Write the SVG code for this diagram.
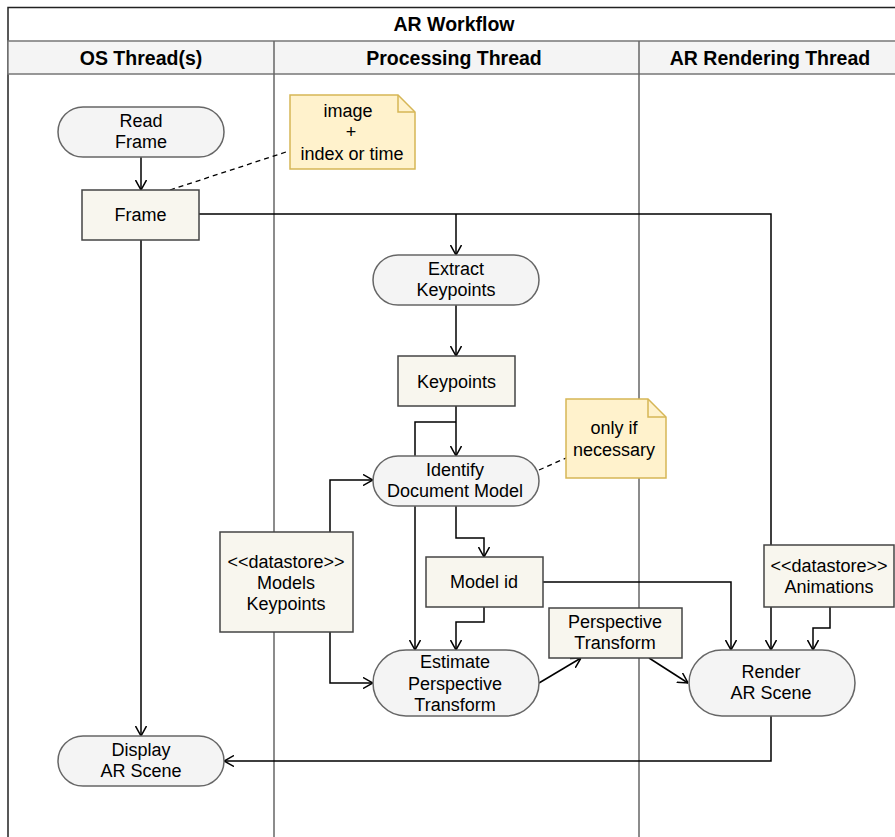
<svg xmlns="http://www.w3.org/2000/svg" width="895" height="837" viewBox="0 0 895 837">
<style>
text{font-family:"Liberation Sans",Arial,sans-serif;font-size:18px;fill:#000;text-anchor:middle}
.h{font-weight:bold;font-size:19.5px}
.pill{fill:#f4f4f4;stroke:#666;stroke-width:1.5}
.obj{fill:#f8f6ee;stroke:#444;stroke-width:1.5}
.note{fill:#fff2cc;stroke:#d6b656;stroke-width:1.5}
.lane{stroke:#666;stroke-width:1.5;fill:none}
.c{fill:none;stroke:#000;stroke-width:1.5}
.d{fill:none;stroke:#000;stroke-width:1.3;stroke-dasharray:5 4}
</style>
<defs>
<marker id="a" viewBox="0 0 10 12" refX="10" refY="6" markerWidth="10" markerHeight="12" markerUnits="userSpaceOnUse" orient="auto">
<path d="M0,0.5 L10,6 L0,11.5" fill="none" stroke="#000" stroke-width="1.5"/>
</marker>
</defs>
<rect width="895" height="837" fill="#fff"/>
<g id="pool">
<rect x="8" y="7.5" width="900" height="860" fill="none" stroke="#222" stroke-width="1.5"/>
<rect x="8" y="41" width="900" height="33" fill="#f4f4f4" stroke="#777" stroke-width="1.5"/>
<line class="lane" x1="274" y1="41" x2="274" y2="840"/>
<line class="lane" x1="639" y1="41" x2="639" y2="840"/>
<text class="h" x="454" y="31">AR Workflow</text>
<text class="h" x="141" y="65">OS Thread(s)</text>
<text class="h" x="454" y="65">Processing Thread</text>
<text class="h" x="770" y="65">AR Rendering Thread</text>
</g>
<g id="connectors">
<line class="c" x1="141" y1="157" x2="141" y2="190" marker-end="url(#a)"/>
<line class="d" x1="170" y1="190" x2="289" y2="151"/>
<polyline class="c" points="199,214 771,214 771,650" marker-end="url(#a)"/>
<line class="c" x1="456" y1="214" x2="456" y2="255" marker-end="url(#a)"/>
<line class="c" x1="141" y1="240" x2="141" y2="736" marker-end="url(#a)"/>
<line class="c" x1="456" y1="305" x2="456" y2="356" marker-end="url(#a)"/>
<line class="c" x1="456" y1="406" x2="456" y2="456" marker-end="url(#a)"/>
<polyline class="c" points="415,456 415,422 456,422"/>
<line class="d" x1="539" y1="470" x2="566" y2="458"/>
<polyline class="c" points="330,532 330,480 373,480" marker-end="url(#a)"/>
<polyline class="c" points="330,632 330,683 373,683" marker-end="url(#a)"/>
<polyline class="c" points="456,506 456,538 484,538 484,557" marker-end="url(#a)"/>
<line class="c" x1="415" y1="506" x2="415" y2="650" marker-end="url(#a)"/>
<polyline class="c" points="484,607 484,622 456,622 456,650" marker-end="url(#a)"/>
<line class="c" x1="539" y1="683" x2="581" y2="658" marker-end="url(#a)"/>
<line class="c" x1="649" y1="658" x2="688" y2="683" marker-end="url(#a)"/>
<polyline class="c" points="543,582 731,582 731,650" marker-end="url(#a)"/>
<polyline class="c" points="830,607 830,628 813,628 813,650" marker-end="url(#a)"/>
<polyline class="c" points="771,716 771,761 224,761" marker-end="url(#a)"/>
</g>
<g id="read-frame">
<rect class="pill" x="58" y="107" width="166" height="50" rx="25"/>
<text x="141" y="127">Read</text><text x="141" y="148">Frame</text>
</g>
<g id="frame">
<rect class="obj" x="82" y="190" width="117" height="50"/>
<text x="140.5" y="221">Frame</text>
</g>
<g id="note-image">
<path class="note" d="M290,95 H398 L415,112 V169 H290 Z"/>
<path d="M398,95 V112 H415" fill="none" stroke="#d6b656" stroke-width="1.5"/>
<text x="348" y="117">image</text><text x="351" y="138">+</text><text x="352" y="160">index or time</text>
</g>
<g id="extract-keypoints">
<rect class="pill" x="373" y="255" width="166" height="50" rx="25"/>
<text x="456" y="275">Extract</text><text x="456" y="296">Keypoints</text>
</g>
<g id="keypoints">
<rect class="obj" x="398" y="356" width="117" height="50"/>
<text x="456.5" y="388">Keypoints</text>
</g>
<g id="identify-document-model">
<rect class="pill" x="373" y="456" width="166" height="50" rx="25"/>
<text x="455" y="476">Identify</text><text x="455" y="497">Document Model</text>
</g>
<g id="note-only-if">
<path class="note" d="M566,399 H648 L666,417 V478 H566 Z"/>
<path d="M648,399 V417 H666" fill="none" stroke="#d6b656" stroke-width="1.5"/>
<text x="614" y="434">only if</text><text x="614" y="456">necessary</text>
</g>
<g id="datastore-models">
<rect class="obj" x="220" y="532" width="133" height="100"/>
<text x="286" y="568">&lt;&lt;datastore&gt;&gt;</text><text x="286" y="589">Models</text><text x="286" y="610">Keypoints</text>
</g>
<g id="model-id">
<rect class="obj" x="426" y="557" width="117" height="50"/>
<text x="484" y="588">Model id</text>
</g>
<g id="estimate-perspective-transform">
<rect class="pill" x="373" y="650" width="166" height="66" rx="33"/>
<text x="455" y="668">Estimate</text><text x="455" y="690">Perspective</text><text x="455" y="711">Transform</text>
</g>
<g id="perspective-transform">
<rect class="obj" x="549" y="608" width="133" height="50"/>
<text x="615" y="628">Perspective</text><text x="615" y="649">Transform</text>
</g>
<g id="datastore-animations">
<rect class="obj" x="764" y="545" width="130" height="62"/>
<text x="829" y="572">&lt;&lt;datastore&gt;&gt;</text><text x="829" y="593">Animations</text>
</g>
<g id="render-ar-scene">
<rect class="pill" x="689" y="650" width="166" height="66" rx="33"/>
<text x="771" y="678">Render</text><text x="771" y="699">AR Scene</text>
</g>
<g id="display-ar-scene">
<rect class="pill" x="58" y="736" width="166" height="50" rx="25"/>
<text x="141" y="756">Display</text><text x="141" y="777">AR Scene</text>
</g>
</svg>
